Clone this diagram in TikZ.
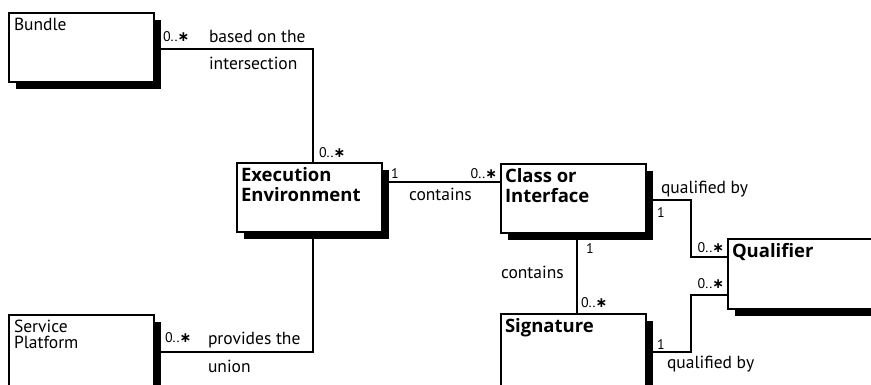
\documentclass[tikz,border=0pt]{standalone}
\usepackage{fontspec}
\setmainfont{PT Sans}
\newfontfamily\titlefont{Open Sans}
\newfontfamily\symfont{DejaVu Sans}
\newcommand{\many}{0..{\symfont\bfseries ∗}}
\usetikzlibrary{shadows}
\begin{document}
\begin{tikzpicture}[x=1pt, y=-1pt, line width=2pt,
  every node/.style={font=\fontsize{17.5}{16}\selectfont},
  cls/.style={draw, fill=white, anchor=north west, minimum width=145pt, minimum height=69pt, inner sep=0pt,
    general shadow={fill=black, shadow xshift=7pt, shadow yshift=-7pt}},
  ttl/.style={anchor=north west, inner sep=5pt, align=left},
  bold/.style={font=\fontsize{18.5}{20}\titlefont\bfseries, inner sep=4pt},
  mult/.style={font=\fontsize{14}{14}\selectfont, inner sep=0pt, anchor=base west},
  lbl/.style={inner sep=0pt, anchor=base west}]
\useasboundingbox (0,0) rectangle (871,384);
\clip (0,0) rectangle (871,384);
% classes
\node[cls, label={[ttl]north west:Bundle}] (bundle) at (8,12) {};
\node[cls, minimum height=100pt, label={[ttl]north west:Service\\Platform}] (platform) at (8,314) {};
\node[cls, label={[ttl,bold]north west:Execution\\Environment}] (env) at (236,162) {};
\node[cls, label={[ttl,bold]north west:Class or\\Interface}] (class) at (500,163) {};
\node[cls, minimum height=100pt, label={[ttl,bold]north west:Signature}] (sig) at (500,313) {};
\node[cls, minimum width=170pt, minimum height=70pt, label={[ttl,bold]north west:Qualifier}] (qual) at (727,238) {};
% associations
\draw ([yshift=-37pt]bundle.north east) -| ([xshift=3pt]env.north);
\draw ([yshift=-20pt]env.north east) -- ([yshift=-19pt]class.north west);
\draw ([xshift=3pt]env.south) |- ([yshift=-38pt]platform.north east);
\draw ([xshift=3.5pt]class.south) -- ([xshift=3.5pt]sig.north);
\draw ([yshift=-37pt]class.north east) -- ++(44,0) |- ([yshift=-19pt]qual.north west);
\draw ([yshift=-39pt]sig.north east) -- ++(44,0) |- ([yshift=-57pt]qual.north west);
% multiplicities
\node[mult] (m-bundle) at (162,41) {\many};
\node[mult] (m-env-top) at (318,157) {\many};
\node[mult] (m-env-right) at (390,178) {1};
\node[mult, anchor=base east] (m-class-left) at (498,178) {\many};
\node[mult] (m-class-right) at (656,217) {1};
\node[mult, anchor=base east] (m-qual-top) at (725,252) {\many};
\node[mult] (m-class-bottom) at (585,253) {1};
\node[mult] (m-sig-top) at (580,307) {\many};
\node[mult, anchor=base east] (m-qual-bottom) at (725,288) {\many};
\node[mult] (m-sig-right) at (656,349) {1};
\node[mult] (m-platform) at (164,342) {\many};
% roles
\node[lbl] (based) at (208,42) {based on the};
\node[lbl] (inter) at (208,69) {intersection};
\node[lbl] (contains-a) at (408,200) {contains};
\node[lbl] (qualified-a) at (660,193) {qualified by};
\node[lbl] (contains-b) at (500,278) {contains};
\node[lbl] (qualified-b) at (666,368) {qualified by};
\node[lbl] (provides) at (207,344) {provides the};
\node[lbl] (union) at (207,372) {union};
\end{tikzpicture}
\end{document}
